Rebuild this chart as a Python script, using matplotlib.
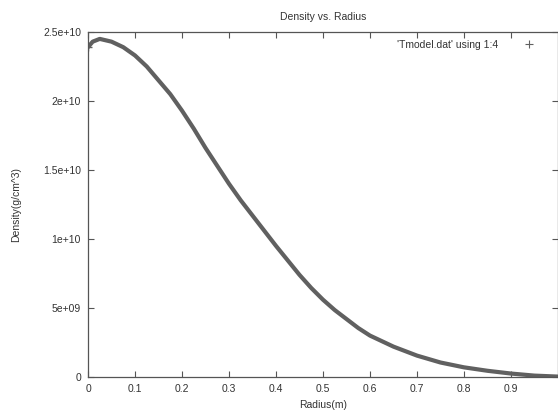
import matplotlib
matplotlib.use("Agg")
import matplotlib.pyplot as plt
from matplotlib.lines import Line2D

# radius (m) and density (g/cm^3)
radius = [0.0, 0.01, 0.025, 0.05, 0.075, 0.1, 0.125, 0.15, 0.175, 0.2, 0.225,
          0.25, 0.275, 0.3, 0.325, 0.35, 0.375, 0.4, 0.425, 0.45, 0.475, 0.5,
          0.525, 0.55, 0.575, 0.6, 0.65, 0.7, 0.75, 0.8, 0.85, 0.9, 0.95, 1.0]
density = [2.39e10, 2.43e10, 2.45e10, 2.43e10, 2.39e10, 2.33e10, 2.25e10, 2.15e10,
           2.05e10, 1.93e10, 1.80e10, 1.66e10, 1.53e10, 1.40e10, 1.28e10, 1.17e10,
           1.06e10, 0.95e10, 0.845e10, 0.74e10, 0.645e10, 0.56e10, 0.485e10,
           0.42e10, 0.355e10, 0.30e10, 0.22e10, 0.155e10, 0.105e10, 0.07e10,
           0.045e10, 0.025e10, 0.01e10, 0.003e10]

xticks = [0, 0.1, 0.2, 0.3, 0.4, 0.5, 0.6, 0.7, 0.8, 0.9]
xtick_labels = ["0", "0.1", "0.2", "0.3", "0.4", "0.5", "0.6", "0.7", "0.8", "0.9"]
yticks = [0, 5e9, 1e10, 1.5e10, 2e10, 2.5e10]
ytick_labels = ["0", "5e+09", "1e+10", "1.5e+10", "2e+10", "2.5e+10"]

plt.rcParams["font.family"] = ["Liberation Sans", "DejaVu Sans"]
plt.rcParams["font.size"] = 7.5
txt = "#333333"
gray = "#606060"

fig = plt.figure(figsize=(5.58, 4.15), dpi=100)
ax = fig.add_axes([88 / 558, 1 - 377 / 415, 470 / 558, 345 / 415])

ax.plot(radius, density, color=gray, lw=3, solid_joinstyle="round",
        solid_capstyle="round")
ax.plot(radius[0], density[0], marker="+", color=gray, ms=6, mew=1)

ax.set_xlim(0, 1)
ax.set_ylim(0, 2.5e10)
ax.set_xticks(xticks)
ax.set_xticklabels(xtick_labels)
ax.set_yticks(yticks)
ax.set_yticklabels(ytick_labels)
ax.tick_params(direction="in", length=4, width=0.8, color="#555555",
               top=True, right=True, labelcolor=txt, pad=5)
for s in ax.spines.values():
    s.set_color("#555555")
    s.set_linewidth(0.9)

ax.set_title("Density vs. Radius", color=txt, fontsize=7.5, pad=9)
ax.set_xlabel("Radius(m)", color=txt, labelpad=4)
ax.set_ylabel("Density(g/cm^3)", color=txt, labelpad=16)

handle = Line2D([], [], color=gray, marker="+", ls="none", ms=6, mew=0.8)
ax.legend([handle], ["'Tmodel.dat' using 1:4"], loc="upper right", frameon=False,
          markerfirst=False, handletextpad=2.0, borderaxespad=0.0,
          bbox_to_anchor=(0.97, 0.99), labelcolor=txt, fontsize=7.5)

fig.savefig("out.png", dpi=100)
